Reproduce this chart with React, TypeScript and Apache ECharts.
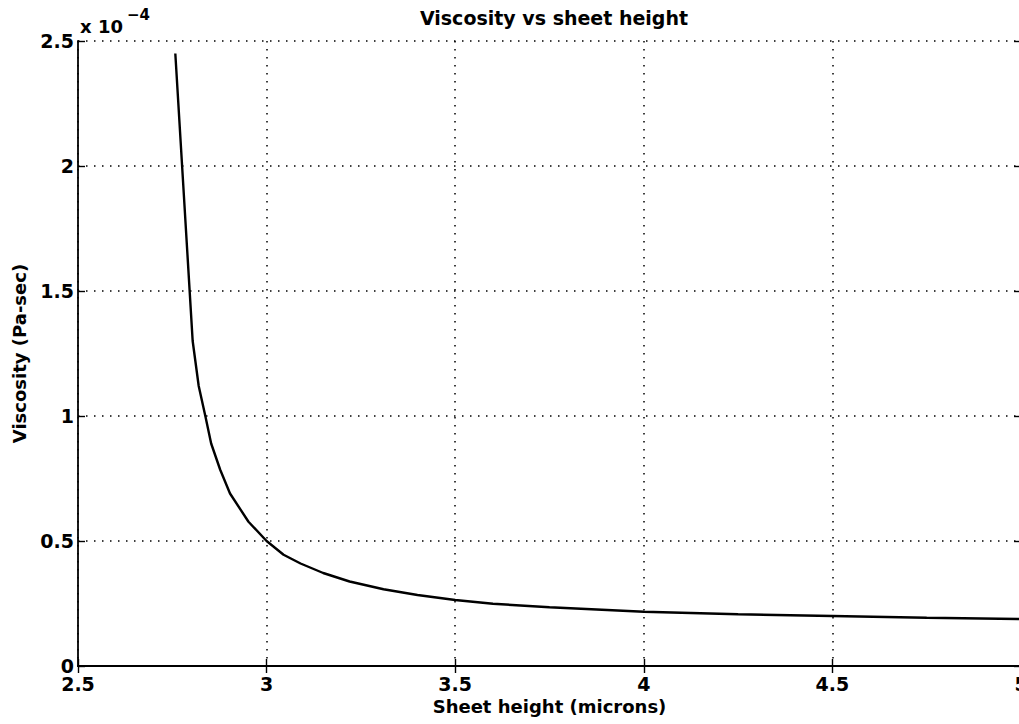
import React, { useEffect, useRef } from "react";
import * as echarts from "echarts";

// Sheet height (microns)
const sheetHeight = [
  2.758, 2.804, 2.82, 2.838, 2.853, 2.877, 2.903, 2.952, 3.0, 3.045, 3.09, 3.15,
  3.22, 3.31, 3.4, 3.5, 3.6, 3.75, 4.0, 4.25, 4.5, 4.75, 5.0,
];
// Viscosity (Pa-sec), in units of 1e-4
const viscosityE4 = [
  2.45, 1.3, 1.12, 0.997, 0.89, 0.785, 0.69, 0.577, 0.5, 0.445, 0.41, 0.372,
  0.338, 0.307, 0.284, 0.264, 0.249, 0.235, 0.217, 0.207, 0.2, 0.193, 0.188,
];
const xTicks = { min: 2.5, max: 5, interval: 0.5 };
const yTicks = { min: 0, max: 2.5, interval: 0.5 };

const FONT = "'DejaVu Sans', 'Liberation Sans', Arial, sans-serif";

export default function App() {
  const ref = useRef<HTMLDivElement>(null);
  useEffect(() => {
    if (!ref.current) return;
    const chart = echarts.init(ref.current, undefined, { renderer: "svg" });
    const tickStyle = { inside: true, length: 7, lineStyle: { color: "#000", width: 1.4 } };
    const axisLine = { show: true, lineStyle: { color: "#000", width: 1.8 } };
    const split = { show: true, lineStyle: { color: "#000", width: 1.5, type: [1.5, 6.5] as any } };
    const label = { fontFamily: FONT, fontSize: 18, fontWeight: "bold", color: "#000" };
    chart.setOption({
      animation: false,
      backgroundColor: "#fff",
      textStyle: { fontFamily: FONT },
      title: {
        text: "Viscosity vs sheet height",
        left: 549,
        top: 3,
        textAlign: "center",
        textStyle: { ...label, fontSize: 19 },
      },
      grid: { left: 78, right: -2, top: 41, bottom: 58, containLabel: false, outerBoundsMode: "none" },
      xAxis: [
        {
          type: "value",
          ...xTicks,
          position: "bottom",
          name: "Sheet height (microns)",
          nameLocation: "middle",
          nameGap: 24,
          nameTextStyle: label,
          axisLine,
          axisTick: tickStyle,
          axisLabel: { ...label, fontSize: 19, lineHeight: 15, margin: 10 },
          splitLine: split,
        },
        {
          type: "value",
          ...xTicks,
          position: "top",
          axisLine,
          axisTick: tickStyle,
          axisLabel: { show: false },
          splitLine: { show: false },
        },
      ],
      yAxis: [
        {
          type: "value",
          ...yTicks,
          position: "left",
          name: "Viscosity (Pa-sec)",
          nameLocation: "middle",
          nameGap: 50,
          nameTextStyle: label,
          axisLine,
          axisTick: tickStyle,
          axisLabel: { ...label, fontSize: 19, lineHeight: 15, margin: 4 },
          splitLine: split,
        },
        {
          type: "value",
          ...yTicks,
          position: "right",
          axisLine,
          axisTick: tickStyle,
          axisLabel: { show: false },
          splitLine: { show: false },
        },
      ],
      graphic: [
        {
          type: "text",
          left: 80,
          top: 17,
          style: { text: "x 10", fontFamily: FONT, fontSize: 18, fontWeight: "bold", fill: "#000" },
        },
        {
          type: "text",
          left: 127,
          top: 7,
          style: { text: "−4", fontFamily: FONT, fontSize: 15, fontWeight: "bold", fill: "#000" },
        },
      ],
      series: [
        {
          type: "line",
          data: sheetHeight.map((h, i) => [h, viscosityE4[i]]),
          showSymbol: false,
          symbol: "none",
          lineStyle: { color: "#000", width: 2.4 },
          clip: true,
        },
      ],
    });
    return () => chart.dispose();
  }, []);
  return (
    <div
      ref={ref}
      style={{ position: "fixed", left: 0, top: 0, width: 1019, height: 724, background: "#fff" }}
    />
  );
}
